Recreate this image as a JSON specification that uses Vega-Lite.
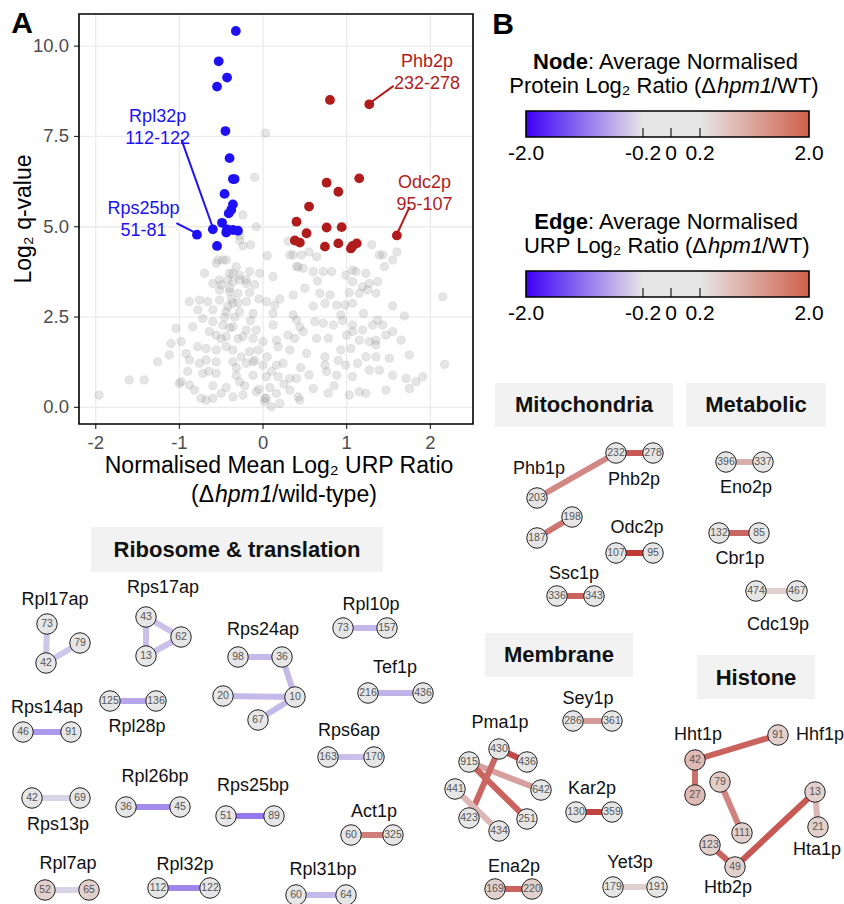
{
"$schema": "https://vega.github.io/schema/vega-lite/v6.json",
"width": 844, "height": 904,
"autosize": {"type": "none"},
"padding": 0,
"background": "white",
"config": {"view": {"stroke": null}, "font": "Liberation Sans"},
"datasets": {
"volcano": [
{"x":0.03,"y":7.59,"sig":"ns"},{"x":-0.10,"y":6.37,"sig":"ns"},{"x":-0.24,"y":5.33,"sig":"ns"},{"x":-0.08,"y":5.00,"sig":"ns"},{"x":-0.28,"y":4.75,"sig":"ns"},{"x":-0.24,"y":4.47,"sig":"ns"},{"x":-0.28,"y":4.63,"sig":"ns"},{"x":-0.48,"y":4.08,"sig":"ns"},{"x":-0.56,"y":3.99,"sig":"ns"},{"x":-0.70,"y":3.71,"sig":"ns"},{"x":-0.36,"y":3.71,"sig":"ns"},{"x":-0.04,"y":3.71,"sig":"ns"},{"x":0.12,"y":3.62,"sig":"ns"},{"x":0.36,"y":4.22,"sig":"ns"},{"x":0.42,"y":3.89,"sig":"ns"},{"x":0.64,"y":4.17,"sig":"ns"},{"x":1.07,"y":3.80,"sig":"ns"},{"x":1.23,"y":3.71,"sig":"ns"},{"x":1.43,"y":4.22,"sig":"ns"},{"x":1.55,"y":4.08,"sig":"ns"},{"x":-0.32,"y":3.89,"sig":"ns"},{"x":-0.52,"y":3.53,"sig":"ns"},{"x":-0.42,"y":3.53,"sig":"ns"},{"x":-0.28,"y":3.53,"sig":"ns"},{"x":-0.20,"y":3.53,"sig":"ns"},{"x":-0.54,"y":4.08,"sig":"ns"},{"x":-0.44,"y":4.08,"sig":"ns"},{"x":0.32,"y":4.22,"sig":"ns"},{"x":0.46,"y":4.22,"sig":"ns"},{"x":1.39,"y":4.22,"sig":"ns"},{"x":-0.40,"y":3.71,"sig":"ns"},{"x":-0.28,"y":3.66,"sig":"ns"},{"x":-0.16,"y":3.76,"sig":"ns"},{"x":0.40,"y":3.90,"sig":"ns"},{"x":0.48,"y":3.85,"sig":"ns"},{"x":0.60,"y":3.76,"sig":"ns"},{"x":0.72,"y":3.76,"sig":"ns"},{"x":0.82,"y":3.76,"sig":"ns"},{"x":0.99,"y":3.66,"sig":"ns"},{"x":1.11,"y":3.76,"sig":"ns"},
{"x":-0.60,"y":3.43,"sig":"ns"},{"x":-0.50,"y":3.39,"sig":"ns"},{"x":-0.36,"y":3.48,"sig":"ns"},{"x":-0.20,"y":3.43,"sig":"ns"},{"x":1.07,"y":3.48,"sig":"ns"},{"x":1.19,"y":3.34,"sig":"ns"},{"x":1.27,"y":3.43,"sig":"ns"},{"x":1.37,"y":3.48,"sig":"ns"},{"x":-0.52,"y":3.25,"sig":"ns"},{"x":-0.40,"y":3.20,"sig":"ns"},{"x":-0.30,"y":3.16,"sig":"ns"},{"x":-0.16,"y":3.18,"sig":"ns"},{"x":0.36,"y":3.11,"sig":"ns"},{"x":0.68,"y":3.16,"sig":"ns"},{"x":0.80,"y":3.11,"sig":"ns"},{"x":1.03,"y":3.18,"sig":"ns"},{"x":1.15,"y":3.16,"sig":"ns"},{"x":1.35,"y":3.16,"sig":"ns"},{"x":1.25,"y":3.25,"sig":"ns"},
{"x":-0.88,"y":2.93,"sig":"ns"},{"x":-0.76,"y":2.97,"sig":"ns"},{"x":-0.66,"y":2.93,"sig":"ns"},{"x":-0.52,"y":2.97,"sig":"ns"},{"x":-0.36,"y":2.88,"sig":"ns"},{"x":-0.20,"y":2.93,"sig":"ns"},{"x":0.04,"y":2.93,"sig":"ns"},{"x":0.14,"y":2.83,"sig":"ns"},{"x":0.74,"y":2.88,"sig":"ns"},{"x":0.88,"y":2.83,"sig":"ns"},{"x":0.98,"y":2.83,"sig":"ns"},{"x":1.07,"y":2.88,"sig":"ns"},{"x":1.55,"y":2.81,"sig":"ns"},{"x":2.15,"y":3.06,"sig":"ns"},
{"x":-0.78,"y":2.70,"sig":"ns"},{"x":-0.60,"y":2.70,"sig":"ns"},{"x":-0.44,"y":2.65,"sig":"ns"},{"x":-0.28,"y":2.65,"sig":"ns"},{"x":-0.12,"y":2.60,"sig":"ns"},{"x":0.12,"y":2.60,"sig":"ns"},{"x":0.36,"y":2.56,"sig":"ns"},{"x":0.93,"y":2.56,"sig":"ns"},{"x":1.69,"y":2.53,"sig":"ns"},
{"x":-1.04,"y":2.19,"sig":"ns"},{"x":-0.84,"y":2.23,"sig":"ns"},{"x":-0.72,"y":2.46,"sig":"ns"},{"x":-0.60,"y":2.37,"sig":"ns"},{"x":-0.48,"y":2.28,"sig":"ns"},{"x":-0.36,"y":2.23,"sig":"ns"},{"x":-0.20,"y":2.14,"sig":"ns"},{"x":-0.08,"y":2.14,"sig":"ns"},{"x":0.12,"y":2.28,"sig":"ns"},{"x":0.40,"y":2.42,"sig":"ns"},{"x":0.44,"y":2.23,"sig":"ns"},{"x":0.62,"y":2.37,"sig":"ns"},{"x":0.72,"y":2.33,"sig":"ns"},{"x":0.84,"y":2.28,"sig":"ns"},{"x":1.07,"y":2.28,"sig":"ns"},{"x":1.19,"y":2.14,"sig":"ns"},{"x":1.31,"y":2.28,"sig":"ns"},{"x":1.43,"y":2.28,"sig":"ns"},{"x":1.37,"y":2.42,"sig":"ns"},
{"x":-1.10,"y":1.77,"sig":"ns"},{"x":-0.98,"y":1.82,"sig":"ns"},{"x":-0.64,"y":2.10,"sig":"ns"},{"x":-0.56,"y":2.00,"sig":"ns"},{"x":-0.44,"y":1.96,"sig":"ns"},{"x":-0.24,"y":1.96,"sig":"ns"},{"x":-0.12,"y":1.91,"sig":"ns"},{"x":0.00,"y":1.82,"sig":"ns"},{"x":0.16,"y":1.86,"sig":"ns"},{"x":0.38,"y":1.91,"sig":"ns"},{"x":0.48,"y":2.10,"sig":"ns"},{"x":0.64,"y":1.91,"sig":"ns"},{"x":0.78,"y":1.91,"sig":"ns"},{"x":1.07,"y":2.10,"sig":"ns"},{"x":1.15,"y":1.86,"sig":"ns"},{"x":1.27,"y":1.82,"sig":"ns"},{"x":1.35,"y":1.86,"sig":"ns"},{"x":1.47,"y":2.00,"sig":"ns"},{"x":1.55,"y":2.10,"sig":"ns"},{"x":1.65,"y":1.86,"sig":"ns"},
{"x":-1.12,"y":1.45,"sig":"ns"},{"x":-0.92,"y":1.49,"sig":"ns"},{"x":-0.78,"y":1.68,"sig":"ns"},{"x":-0.68,"y":1.63,"sig":"ns"},{"x":-0.56,"y":1.59,"sig":"ns"},{"x":-0.44,"y":1.68,"sig":"ns"},{"x":-0.36,"y":1.59,"sig":"ns"},{"x":-0.16,"y":1.54,"sig":"ns"},{"x":-0.06,"y":1.59,"sig":"ns"},{"x":0.18,"y":1.68,"sig":"ns"},{"x":0.32,"y":1.59,"sig":"ns"},{"x":0.52,"y":1.49,"sig":"ns"},{"x":0.74,"y":1.40,"sig":"ns"},{"x":0.93,"y":1.59,"sig":"ns"},{"x":1.05,"y":1.63,"sig":"ns"},{"x":1.23,"y":1.40,"sig":"ns"},{"x":1.35,"y":1.40,"sig":"ns"},{"x":1.51,"y":1.36,"sig":"ns"},{"x":1.75,"y":1.45,"sig":"ns"},{"x":1.35,"y":1.73,"sig":"ns"},
{"x":-1.26,"y":1.26,"sig":"ns"},{"x":-0.88,"y":1.31,"sig":"ns"},{"x":-0.76,"y":1.22,"sig":"ns"},{"x":-0.68,"y":1.31,"sig":"ns"},{"x":-0.56,"y":1.26,"sig":"ns"},{"x":-0.36,"y":1.26,"sig":"ns"},{"x":-0.20,"y":1.22,"sig":"ns"},{"x":-0.12,"y":1.26,"sig":"ns"},{"x":0.00,"y":1.17,"sig":"ns"},{"x":0.16,"y":1.17,"sig":"ns"},{"x":0.24,"y":1.22,"sig":"ns"},{"x":0.74,"y":1.17,"sig":"ns"},{"x":0.99,"y":1.17,"sig":"ns"},{"x":1.13,"y":1.22,"sig":"ns"},{"x":1.27,"y":1.03,"sig":"ns"},{"x":1.39,"y":1.03,"sig":"ns"},{"x":2.17,"y":1.19,"sig":"ns"},
{"x":-1.60,"y":0.76,"sig":"ns"},{"x":-1.42,"y":0.76,"sig":"ns"},{"x":-0.98,"y":0.71,"sig":"ns"},{"x":-0.88,"y":0.62,"sig":"ns"},{"x":-0.72,"y":0.94,"sig":"ns"},{"x":-0.56,"y":0.94,"sig":"ns"},{"x":-0.32,"y":0.89,"sig":"ns"},{"x":-0.28,"y":0.71,"sig":"ns"},{"x":-0.12,"y":0.89,"sig":"ns"},{"x":0.04,"y":0.85,"sig":"ns"},{"x":0.18,"y":0.85,"sig":"ns"},{"x":0.32,"y":0.80,"sig":"ns"},{"x":0.40,"y":0.80,"sig":"ns"},{"x":0.76,"y":0.99,"sig":"ns"},{"x":0.88,"y":0.89,"sig":"ns"},{"x":1.07,"y":0.85,"sig":"ns"},{"x":1.55,"y":0.89,"sig":"ns"},{"x":1.71,"y":0.80,"sig":"ns"},{"x":1.91,"y":0.85,"sig":"ns"},{"x":1.83,"y":0.71,"sig":"ns"},
{"x":-1.96,"y":0.34,"sig":"ns"},{"x":-1.00,"y":0.66,"sig":"ns"},{"x":-0.82,"y":0.48,"sig":"ns"},{"x":-0.74,"y":0.25,"sig":"ns"},{"x":-0.60,"y":0.25,"sig":"ns"},{"x":-0.50,"y":0.39,"sig":"ns"},{"x":-0.36,"y":0.29,"sig":"ns"},{"x":-0.24,"y":0.34,"sig":"ns"},{"x":-0.08,"y":0.43,"sig":"ns"},{"x":0.02,"y":0.25,"sig":"ns"},{"x":0.16,"y":0.39,"sig":"ns"},{"x":0.32,"y":0.48,"sig":"ns"},{"x":0.42,"y":0.29,"sig":"ns"},{"x":0.44,"y":0.20,"sig":"ns"},{"x":0.60,"y":0.52,"sig":"ns"},{"x":0.78,"y":0.39,"sig":"ns"},{"x":1.03,"y":0.34,"sig":"ns"},{"x":1.15,"y":0.43,"sig":"ns"},{"x":1.23,"y":0.39,"sig":"ns"},{"x":1.47,"y":0.48,"sig":"ns"},{"x":1.75,"y":0.52,"sig":"ns"},{"x":-0.68,"y":0.20,"sig":"ns"},{"x":0.02,"y":0.16,"sig":"ns"},{"x":0.10,"y":0.02,"sig":"ns"},{"x":0.20,"y":0.11,"sig":"ns"},{"x":0.04,"y":0.25,"sig":"ns"},
{"x":-0.38,"y":3.0,"sig":"ns"},{"x":-0.42,"y":2.8,"sig":"ns"},{"x":-0.34,"y":2.5,"sig":"ns"},{"x":-0.40,"y":2.2,"sig":"ns"},{"x":-0.30,"y":1.9,"sig":"ns"},{"x":-0.26,"y":1.4,"sig":"ns"},{"x":-0.32,"y":1.1,"sig":"ns"},{"x":-0.22,"y":0.6,"sig":"ns"},{"x":-0.44,"y":0.55,"sig":"ns"},{"x":-0.40,"y":3.3,"sig":"ns"},{"x":-0.46,"y":2.5,"sig":"ns"},{"x":-0.30,"y":2.9,"sig":"ns"},{"x":-0.50,"y":1.9,"sig":"ns"},{"x":-0.10,"y":1.3,"sig":"ns"},{"x":-0.05,"y":0.5,"sig":"ns"},{"x":0.08,"y":0.55,"sig":"ns"},{"x":0.10,"y":1.0,"sig":"ns"},{"x":0.05,"y":1.4,"sig":"ns"},{"x":-0.15,"y":2.4,"sig":"ns"},{"x":0.25,"y":0.65,"sig":"ns"},{"x":0.45,"y":1.1,"sig":"ns"},{"x":0.55,"y":0.9,"sig":"ns"},{"x":0.90,"y":1.3,"sig":"ns"},{"x":0.85,"y":0.6,"sig":"ns"},{"x":1.00,"y":2.0,"sig":"ns"},{"x":0.95,"y":2.4,"sig":"ns"},{"x":1.20,"y":2.6,"sig":"ns"},{"x":0.30,"y":2.0,"sig":"ns"},{"x":0.20,"y":3.0,"sig":"ns"},{"x":-0.60,"y":0.6,"sig":"ns"},{"x":-0.65,"y":1.0,"sig":"ns"},{"x":-0.90,"y":1.0,"sig":"ns"},{"x":0.60,"y":2.8,"sig":"ns"},{"x":0.50,"y":3.3,"sig":"ns"},{"x":0.65,"y":3.5,"sig":"ns"},{"x":-0.05,"y":3.0,"sig":"ns"},{"x":-0.10,"y":3.4,"sig":"ns"},{"x":0.30,"y":4.6,"sig":"ns"},{"x":0.55,"y":4.3,"sig":"ns"},{"x":0.05,"y":4.2,"sig":"ns"},{"x":-0.15,"y":4.5,"sig":"ns"},{"x":1.30,"y":4.5,"sig":"ns"},{"x":1.60,"y":4.3,"sig":"ns"},{"x":1.45,"y":3.9,"sig":"ns"},
{"x":-0.325,"y":10.42,"sig":"down"},{"x":-0.53,"y":9.58,"sig":"down"},{"x":-0.43,"y":9.13,"sig":"down"},{"x":-0.55,"y":8.88,"sig":"down"},{"x":-0.45,"y":7.65,"sig":"down"},{"x":-0.40,"y":6.90,"sig":"down"},{"x":-0.36,"y":6.32,"sig":"down"},{"x":-0.34,"y":6.32,"sig":"down"},{"x":-0.46,"y":5.91,"sig":"down"},{"x":-0.36,"y":5.62,"sig":"down"},{"x":-0.38,"y":5.47,"sig":"down"},{"x":-0.41,"y":5.37,"sig":"down"},{"x":-0.49,"y":5.11,"sig":"down"},{"x":-0.60,"y":4.93,"sig":"down"},{"x":-0.43,"y":4.93,"sig":"down"},{"x":-0.44,"y":4.84,"sig":"down"},{"x":-0.36,"y":4.91,"sig":"down"},{"x":-0.30,"y":4.89,"sig":"down"},{"x":-0.79,"y":4.78,"sig":"down"},{"x":-0.55,"y":4.47,"sig":"down"},
{"x":0.80,"y":8.51,"sig":"up"},{"x":1.27,"y":8.39,"sig":"up"},{"x":1.15,"y":6.34,"sig":"up"},{"x":0.76,"y":6.22,"sig":"up"},{"x":0.90,"y":5.97,"sig":"up"},{"x":0.55,"y":5.56,"sig":"up"},{"x":0.40,"y":5.14,"sig":"up"},{"x":0.76,"y":4.98,"sig":"up"},{"x":0.94,"y":4.99,"sig":"up"},{"x":0.52,"y":4.82,"sig":"up"},{"x":0.38,"y":4.62,"sig":"up"},{"x":0.44,"y":4.56,"sig":"up"},{"x":0.74,"y":4.45,"sig":"up"},{"x":0.90,"y":4.54,"sig":"up"},{"x":1.05,"y":4.40,"sig":"up"},{"x":1.12,"y":4.54,"sig":"up"},{"x":1.60,"y":4.76,"sig":"up"},{"x":1.07,"y":4.47,"sig":"up"}
],
"annot": [
{"label":"Rpl32p\n112-122","x":-1.26,"y":8.04,"sig":"down"},
{"label":"Rps25bp\n51-81","x":-1.43,"y":5.49,"sig":"down"},
{"label":"Phb2p\n232-278","x":1.96,"y":9.55,"sig":"up"},
{"label":"Odc2p\n95-107","x":1.93,"y":6.21,"sig":"up"}
],
"segs": [
{"x":-0.975,"y":7.41,"x2":-0.604,"y2":5.00,"sig":"down"},
{"x":-1.035,"y":5.10,"x2":-0.795,"y2":4.82,"sig":"down"},
{"x":1.561,"y":8.90,"x2":1.262,"y2":8.40,"sig":"up"},
{"x":1.752,"y":5.55,"x2":1.597,"y2":4.78,"sig":"up"}
],
"gridx": [{"x":-2,"label":"-2"},{"x":-1,"label":"-1"},{"x":0,"label":"0"},{"x":1,"label":"1"},{"x":2,"label":"2"}],
"gridy": [{"y":0,"label":"0.0"},{"y":2.5,"label":"2.5"},{"y":5,"label":"5.0"},{"y":7.5,"label":"7.5"},{"y":10,"label":"10.0"}],
"frame": [{"panel":"A"}],
"axisTitles": [
{"part":"x1","text":"Normalised Mean Log₂ URP Ratio"},
{"part":"x2a","text":"(Δ"},
{"part":"x2i","text":"hpm1"},
{"part":"x2w","text":"/wild-type)"},
{"part":"y","text":"Log₂ q-value"}
],
"legendBars": [{"legend":"Node"},{"legend":"Edge"}],
"legendTicks": [{"legend":"Node","v":-0.2},{"legend":"Node","v":0},{"legend":"Node","v":0.2},{"legend":"Edge","v":-0.2},{"legend":"Edge","v":0},{"legend":"Edge","v":0.2}],
"legendLabels": [
{"legend":"Node","v":-2,"label":"-2.0"},{"legend":"Node","v":-0.2,"label":"-0.2"},{"legend":"Node","v":0,"label":"0"},{"legend":"Node","v":0.2,"label":"0.2"},{"legend":"Node","v":2,"label":"2.0"},
{"legend":"Edge","v":-2,"label":"-2.0"},{"legend":"Edge","v":-0.2,"label":"-0.2"},{"legend":"Edge","v":0,"label":"0"},{"legend":"Edge","v":0.2,"label":"0.2"},{"legend":"Edge","v":2,"label":"2.0"}
],
"legendText": [
{"legend":"Node","part":"b","text":"Node"},{"legend":"Node","part":"r","text":": Average Normalised"},{"legend":"Node","part":"a","text":"Protein Log₂ Ratio (Δ"},{"legend":"Node","part":"i","text":"hpm1"},{"legend":"Node","part":"w","text":"/WT)"},
{"legend":"Edge","part":"b","text":"Edge"},{"legend":"Edge","part":"r","text":": Average Normalised"},{"legend":"Edge","part":"a","text":"URP Log₂ Ratio (Δ"},{"legend":"Edge","part":"i","text":"hpm1"},{"legend":"Edge","part":"w","text":"/WT)"}
],
"groups": [
{"title":"Ribosome & translation","x1":91,"x2":383,"y1":527,"y2":572,"cx":237,"cy":550},
{"title":"Mitochondria","x1":495,"x2":673,"y1":383,"y2":427,"cx":584,"cy":405},
{"title":"Metabolic","x1":686,"x2":826,"y1":383,"y2":427,"cx":756,"cy":405},
{"title":"Membrane","x1":485,"x2":633,"y1":633,"y2":677,"cx":559,"cy":655},
{"title":"Histone","x1":697,"x2":815,"y1":655,"y2":699,"cx":756,"cy":678}
],
"panels": [{"label":"A","x":22,"y":24},{"label":"B","x":503,"y":25}],
"nodes": [
{"key":"Rpl17ap-73","n":"73","x":47,"y":624,"v":0},{"key":"Rpl17ap-79","n":"79","x":80,"y":643,"v":0},{"key":"Rpl17ap-42","n":"42","x":46,"y":663,"v":0},
{"key":"Rps17ap-43","n":"43","x":146,"y":617,"v":0},{"key":"Rps17ap-62","n":"62","x":181,"y":637,"v":0},{"key":"Rps17ap-13","n":"13","x":146,"y":656,"v":0},
{"key":"Rpl28p-125","n":"125","x":110,"y":701,"v":0},{"key":"Rpl28p-136","n":"136","x":156,"y":701,"v":0},
{"key":"Rps24ap-98","n":"98","x":238,"y":657,"v":0},{"key":"Rps24ap-36","n":"36","x":282,"y":657,"v":0},{"key":"Rps24ap-20","n":"20","x":223,"y":696,"v":0},{"key":"Rps24ap-10","n":"10","x":295,"y":697,"v":0},{"key":"Rps24ap-67","n":"67","x":258,"y":720,"v":0},
{"key":"Rpl10p-73","n":"73","x":343,"y":628,"v":0},{"key":"Rpl10p-157","n":"157","x":387,"y":628,"v":0},
{"key":"Tef1p-216","n":"216","x":368,"y":693,"v":0},{"key":"Tef1p-436","n":"436","x":423,"y":693,"v":0},
{"key":"Rps14ap-46","n":"46","x":23,"y":732,"v":0},{"key":"Rps14ap-91","n":"91","x":71,"y":732,"v":0},
{"key":"Rps6ap-163","n":"163","x":328,"y":757,"v":0},{"key":"Rps6ap-170","n":"170","x":374,"y":757,"v":0},
{"key":"Rps13p-42","n":"42","x":32,"y":798,"v":0},{"key":"Rps13p-69","n":"69","x":80,"y":798,"v":0},
{"key":"Rpl26bp-36","n":"36","x":126,"y":807,"v":0},{"key":"Rpl26bp-45","n":"45","x":180,"y":807,"v":0},
{"key":"Rps25bp-51","n":"51","x":226,"y":816,"v":0},{"key":"Rps25bp-89","n":"89","x":274,"y":816,"v":0},
{"key":"Act1p-60","n":"60","x":351,"y":835,"v":0},{"key":"Act1p-325","n":"325","x":393,"y":835,"v":0},
{"key":"Rpl7ap-52","n":"52","x":45,"y":890,"v":0.5},{"key":"Rpl7ap-65","n":"65","x":89,"y":890,"v":0.5},
{"key":"Rpl32p-112","n":"112","x":158,"y":888,"v":0},{"key":"Rpl32p-122","n":"122","x":210,"y":888,"v":0},
{"key":"Rpl31bp-60","n":"60","x":296,"y":895,"v":0},{"key":"Rpl31bp-64","n":"64","x":346,"y":895,"v":0},
{"key":"Phb1p-203","n":"203","x":537,"y":498,"v":0},{"key":"Phb2p-232","n":"232","x":616,"y":453,"v":0},{"key":"Phb2p-278","n":"278","x":653,"y":453,"v":0},
{"key":"Mito-187","n":"187","x":537,"y":538,"v":0},{"key":"Mito-198","n":"198","x":572,"y":517,"v":0},
{"key":"Odc2p-107","n":"107","x":616,"y":553,"v":0},{"key":"Odc2p-95","n":"95","x":653,"y":553,"v":0},
{"key":"Ssc1p-336","n":"336","x":557,"y":596,"v":0},{"key":"Ssc1p-343","n":"343","x":594,"y":596,"v":0},
{"key":"Eno2p-396","n":"396","x":726,"y":462,"v":0},{"key":"Eno2p-337","n":"337","x":763,"y":462,"v":0},
{"key":"Cbr1p-132","n":"132","x":719,"y":533,"v":0},{"key":"Cbr1p-85","n":"85","x":759,"y":533,"v":0},
{"key":"Cdc19p-474","n":"474","x":756,"y":591,"v":0},{"key":"Cdc19p-467","n":"467","x":797,"y":591,"v":0},
{"key":"Sey1p-286","n":"286","x":573,"y":721,"v":0},{"key":"Sey1p-361","n":"361","x":612,"y":721,"v":0},
{"key":"Pma1p-430","n":"430","x":499,"y":749,"v":0},{"key":"Pma1p-436","n":"436","x":527,"y":762,"v":0},{"key":"Pma1p-915","n":"915","x":469,"y":762,"v":0},{"key":"Pma1p-642","n":"642","x":541,"y":790,"v":0},{"key":"Pma1p-441","n":"441","x":455,"y":789,"v":0},{"key":"Pma1p-423","n":"423","x":469,"y":818,"v":0},{"key":"Pma1p-251","n":"251","x":527,"y":819,"v":0},{"key":"Pma1p-434","n":"434","x":499,"y":831,"v":0},
{"key":"Kar2p-130","n":"130","x":576,"y":812,"v":0},{"key":"Kar2p-359","n":"359","x":612,"y":812,"v":0},
{"key":"Ena2p-169","n":"169","x":495,"y":889,"v":0.5},{"key":"Ena2p-220","n":"220","x":532,"y":889,"v":0.5},
{"key":"Yet3p-179","n":"179","x":613,"y":887,"v":0},{"key":"Yet3p-191","n":"191","x":657,"y":887,"v":0},
{"key":"H-91","n":"91","x":778,"y":735,"v":0.5},{"key":"H-42","n":"42","x":695,"y":760,"v":0.8},{"key":"H-27","n":"27","x":695,"y":795,"v":0.8},{"key":"H-79","n":"79","x":720,"y":782,"v":0.55},{"key":"H-111","n":"111","x":742,"y":833,"v":0.5},{"key":"H-13","n":"13","x":815,"y":792,"v":0.5},{"key":"H-21","n":"21","x":818,"y":827,"v":0.5},{"key":"H-123","n":"123","x":710,"y":845,"v":0.5},{"key":"H-49","n":"49","x":735,"y":867,"v":0.5}
],
"edges": [
{"s":"Rpl17ap-73","t":"Rpl17ap-42","v":-0.45},{"s":"Rpl17ap-42","t":"Rpl17ap-79","v":-0.45},
{"s":"Rps17ap-43","t":"Rps17ap-62","v":-0.5},{"s":"Rps17ap-43","t":"Rps17ap-13","v":-0.5},{"s":"Rps17ap-13","t":"Rps17ap-62","v":-0.5},
{"s":"Rpl28p-125","t":"Rpl28p-136","v":-0.7},
{"s":"Rps24ap-98","t":"Rps24ap-36","v":-0.55},{"s":"Rps24ap-36","t":"Rps24ap-10","v":-0.55},{"s":"Rps24ap-20","t":"Rps24ap-10","v":-0.55},{"s":"Rps24ap-10","t":"Rps24ap-67","v":-0.55},
{"s":"Rpl10p-73","t":"Rpl10p-157","v":-0.55},
{"s":"Tef1p-216","t":"Tef1p-436","v":-0.6},
{"s":"Rps14ap-46","t":"Rps14ap-91","v":-0.8},
{"s":"Rps6ap-163","t":"Rps6ap-170","v":-0.5},
{"s":"Rps13p-42","t":"Rps13p-69","v":-0.35},
{"s":"Rpl26bp-36","t":"Rpl26bp-45","v":-0.9},
{"s":"Rps25bp-51","t":"Rps25bp-89","v":-1.05},
{"s":"Act1p-60","t":"Act1p-325","v":1.3},
{"s":"Rpl7ap-52","t":"Rpl7ap-65","v":-0.35},
{"s":"Rpl32p-112","t":"Rpl32p-122","v":-0.95},
{"s":"Rpl31bp-60","t":"Rpl31bp-64","v":-0.55},
{"s":"Phb1p-203","t":"Phb2p-232","v":1.2},{"s":"Phb2p-232","t":"Phb2p-278","v":1.7},
{"s":"Mito-187","t":"Mito-198","v":1.4},
{"s":"Odc2p-107","t":"Odc2p-95","v":2.0},
{"s":"Ssc1p-336","t":"Ssc1p-343","v":1.6},
{"s":"Eno2p-396","t":"Eno2p-337","v":0.8},
{"s":"Cbr1p-132","t":"Cbr1p-85","v":1.55},
{"s":"Cdc19p-474","t":"Cdc19p-467","v":0.45},
{"s":"Sey1p-286","t":"Sey1p-361","v":1.0},
{"s":"Pma1p-430","t":"Pma1p-436","v":1.85},{"s":"Pma1p-915","t":"Pma1p-642","v":0.95},{"s":"Pma1p-915","t":"Pma1p-251","v":1.6},{"s":"Pma1p-430","t":"Pma1p-423","v":1.55},{"s":"Pma1p-441","t":"Pma1p-434","v":0.7},
{"s":"Kar2p-130","t":"Kar2p-359","v":1.9},
{"s":"Ena2p-169","t":"Ena2p-220","v":1.6},
{"s":"Yet3p-179","t":"Yet3p-191","v":0.45},
{"s":"H-42","t":"H-91","v":1.6},{"s":"H-42","t":"H-27","v":1.45},{"s":"H-79","t":"H-111","v":1.25},{"s":"H-13","t":"H-21","v":0.7},{"s":"H-13","t":"H-49","v":1.7},{"s":"H-123","t":"H-49","v":1.6}
],
"plabels": [
{"label":"Rpl17ap","x":55,"y":600},{"label":"Rps17ap","x":163,"y":588},{"label":"Rpl28p","x":137,"y":727},{"label":"Rps24ap","x":263,"y":630},{"label":"Rpl10p","x":371,"y":605},{"label":"Tef1p","x":395,"y":668},{"label":"Rps14ap","x":47,"y":708},{"label":"Rps6ap","x":349,"y":731},{"label":"Rps13p","x":58,"y":825},{"label":"Rpl26bp","x":155,"y":777},{"label":"Rps25bp","x":253,"y":786},{"label":"Act1p","x":374,"y":812},{"label":"Rpl7ap","x":68,"y":864},{"label":"Rpl32p","x":185,"y":865},{"label":"Rpl31bp","x":323,"y":870},
{"label":"Phb1p","x":539,"y":469},{"label":"Phb2p","x":634,"y":480},{"label":"Odc2p","x":637,"y":528},{"label":"Ssc1p","x":574,"y":574},{"label":"Eno2p","x":746,"y":488},{"label":"Cbr1p","x":740,"y":559},{"label":"Cdc19p","x":778,"y":625},
{"label":"Sey1p","x":588,"y":699},{"label":"Pma1p","x":500,"y":723},{"label":"Kar2p","x":592,"y":789},{"label":"Ena2p","x":514,"y":867},{"label":"Yet3p","x":630,"y":863},
{"label":"Hht1p","x":698,"y":735},{"label":"Hhf1p","x":820,"y":735},{"label":"Hta1p","x":817,"y":850},{"label":"Htb2p","x":728,"y":888}
]
},
"layer": [
{
"layer": [
{"data": {"name": "gridx"}, "mark": {"type": "rule", "color": "#ebebeb", "strokeWidth": 1.3},
 "encoding": {"x": {"field": "x", "type": "quantitative", "scale": {"domain": [-2.2, 2.51], "range": [79, 473], "nice": false, "zero": false}, "axis": null},
  "y": {"datum": -0.46, "type": "quantitative", "scale": {"domain": [-0.46, 10.89], "range": [424, 14], "nice": false, "zero": false}, "axis": null}, "y2": {"datum": 10.89}}},
{"data": {"name": "gridy"}, "mark": {"type": "rule", "color": "#ebebeb", "strokeWidth": 1.3},
 "encoding": {"y": {"field": "y", "type": "quantitative", "axis": null}, "x": {"datum": -2.2, "type": "quantitative", "axis": null}, "x2": {"datum": 2.51}}},
{"data": {"name": "gridx"}, "mark": {"type": "rule", "color": "#333333", "strokeWidth": 1.2},
 "encoding": {"x": {"field": "x", "type": "quantitative", "axis": null}, "y": {"datum": -0.46, "type": "quantitative", "axis": null}, "y2": {"datum": -0.6}}},
{"data": {"name": "gridy"}, "mark": {"type": "rule", "color": "#333333", "strokeWidth": 1.2},
 "encoding": {"y": {"field": "y", "type": "quantitative", "axis": null}, "x": {"datum": -2.2, "type": "quantitative", "axis": null}, "x2": {"datum": -2.26}}},
{"data": {"name": "gridx"}, "mark": {"type": "text", "fontSize": 18.5, "color": "#4d4d4d", "align": "center", "baseline": "middle", "dy": 19},
 "encoding": {"x": {"field": "x", "type": "quantitative", "axis": null}, "y": {"datum": -0.46, "type": "quantitative", "axis": null}, "text": {"field": "label"}}},
{"data": {"name": "gridy"}, "mark": {"type": "text", "fontSize": 18.5, "color": "#4d4d4d", "align": "right", "baseline": "middle", "dx": -10},
 "encoding": {"y": {"field": "y", "type": "quantitative", "axis": null}, "x": {"datum": -2.2, "type": "quantitative", "axis": null}, "text": {"field": "label"}}},
{"data": {"name": "axisTitles"}, "transform": [{"filter": "datum.part == 'x1'"}], "mark": {"type": "text", "fontSize": 23, "color": "black", "align": "center", "baseline": "middle", "dx": 16, "dy": 42},
 "encoding": {"x": {"datum": 0, "type": "quantitative", "axis": null}, "y": {"datum": -0.46, "type": "quantitative", "axis": null}, "text": {"field": "text"}}},
{"data": {"name": "axisTitles"}, "transform": [{"filter": "datum.part == 'x2a'"}], "mark": {"type": "text", "fontSize": 23, "color": "black", "align": "right", "baseline": "middle", "dx": -49, "dy": 71},
 "encoding": {"x": {"datum": 0, "type": "quantitative", "axis": null}, "y": {"datum": -0.46, "type": "quantitative", "axis": null}, "text": {"field": "text"}}},
{"data": {"name": "axisTitles"}, "transform": [{"filter": "datum.part == 'x2i'"}], "mark": {"type": "text", "fontSize": 23, "fontStyle": "italic", "color": "black", "align": "left", "baseline": "middle", "dx": -48, "dy": 71},
 "encoding": {"x": {"datum": 0, "type": "quantitative", "axis": null}, "y": {"datum": -0.46, "type": "quantitative", "axis": null}, "text": {"field": "text"}}},
{"data": {"name": "axisTitles"}, "transform": [{"filter": "datum.part == 'x2w'"}], "mark": {"type": "text", "fontSize": 23, "color": "black", "align": "left", "baseline": "middle", "dx": 9, "dy": 71},
 "encoding": {"x": {"datum": 0, "type": "quantitative", "axis": null}, "y": {"datum": -0.46, "type": "quantitative", "axis": null}, "text": {"field": "text"}}},
{"data": {"name": "axisTitles"}, "transform": [{"filter": "datum.part == 'y'"}], "mark": {"type": "text", "fontSize": 23, "color": "black", "align": "center", "baseline": "middle", "angle": 270},
 "encoding": {"x": {"datum": -2.853, "type": "quantitative", "axis": null}, "y": {"datum": 5.215, "type": "quantitative", "axis": null}, "text": {"field": "text"}}},
{"data": {"name": "volcano"}, "transform": [{"filter": "datum.sig == 'ns'"}],
 "mark": {"type": "circle", "size": 66, "fill": "#a0a0a0", "stroke": "#7a7a7a", "strokeWidth": 0.8, "opacity": 0.27},
 "encoding": {"x": {"field": "x", "type": "quantitative", "axis": null}, "y": {"field": "y", "type": "quantitative", "axis": null}}},
{"data": {"name": "volcano"}, "transform": [{"filter": "datum.sig != 'ns'"}],
 "mark": {"type": "circle", "size": 96, "opacity": 1},
 "encoding": {"x": {"field": "x", "type": "quantitative", "axis": null}, "y": {"field": "y", "type": "quantitative", "axis": null},
  "color": {"field": "sig", "type": "nominal", "scale": {"domain": ["down", "up"], "range": ["#2010f5", "#b01c1c"]}, "legend": null}}},
{"data": {"name": "segs"}, "mark": {"type": "rule", "strokeWidth": 2},
 "encoding": {"x": {"field": "x", "type": "quantitative", "axis": null}, "y": {"field": "y", "type": "quantitative", "axis": null}, "x2": {"field": "x2"}, "y2": {"field": "y2"},
  "color": {"field": "sig", "type": "nominal", "legend": null}}},
{"data": {"name": "annot"}, "mark": {"type": "text", "fontSize": 18, "lineBreak": "\n", "lineHeight": 22, "align": "center", "baseline": "middle"},
 "encoding": {"x": {"field": "x", "type": "quantitative", "axis": null}, "y": {"field": "y", "type": "quantitative", "axis": null}, "text": {"field": "label"},
  "color": {"field": "sig", "type": "nominal", "legend": null}}},
{"data": {"name": "frame"}, "mark": {"type": "rect", "fillOpacity": 0, "stroke": "black", "strokeWidth": 1.6},
 "encoding": {"x": {"datum": -2.2, "type": "quantitative", "axis": null}, "x2": {"datum": 2.51}, "y": {"datum": -0.46, "type": "quantitative", "axis": null}, "y2": {"datum": 10.89}}}
]
},
{
"layer": [
{"data": {"name": "legendBars"},
 "mark": {"type": "rect", "stroke": "black", "strokeWidth": 1.6, "fill": {"gradient": "linear", "x1": 0, "x2": 1, "y1": 0, "y2": 0, "stops": [{"offset": 0, "color": "#3c00f5"}, {"offset": 0.413, "color": "#e6e6e6"}, {"offset": 0.615, "color": "#e6e6e6"}, {"offset": 1, "color": "#d0604c"}]}},
 "encoding": {"x": {"datum": -2, "type": "quantitative", "scale": {"type": "linear", "domain": [-2, -0.2, 0, 0.2, 2], "range": [526, 643, 671, 700, 809], "nice": false, "zero": false}, "axis": null}, "x2": {"datum": 2},
  "y": {"field": "legend", "type": "nominal", "scale": {"type": "band", "domain": ["Node", "Edge"], "range": [111, 297], "paddingInner": 0.8375, "paddingOuter": 0}, "axis": null}}},
{"data": {"name": "legendTicks"},
 "mark": {"type": "tick", "size": 9, "thickness": 1.5, "color": "black", "yOffset": 8.5},
 "encoding": {"x": {"field": "v", "type": "quantitative", "axis": null}, "y": {"field": "legend", "type": "nominal", "axis": null}}},
{"data": {"name": "legendLabels"},
 "mark": {"type": "text", "fontSize": 21, "baseline": "middle", "align": "center", "dy": 30, "color": "black"},
 "encoding": {"x": {"field": "v", "type": "quantitative", "axis": null}, "y": {"field": "legend", "type": "nominal", "axis": null}, "text": {"field": "label"}}},
{"data": {"name": "legendText"}, "transform": [{"filter": "datum.part == 'b'"}],
 "mark": {"type": "text", "fontSize": 22, "fontWeight": "bold", "align": "right", "baseline": "middle", "dx": -83, "dy": -62, "color": "black"},
 "encoding": {"x": {"datum": 0, "type": "quantitative", "axis": null}, "y": {"field": "legend", "type": "nominal", "axis": null}, "text": {"field": "text"}}},
{"data": {"name": "legendText"}, "transform": [{"filter": "datum.part == 'r'"}],
 "mark": {"type": "text", "fontSize": 22, "align": "left", "baseline": "middle", "dx": -83, "dy": -62, "color": "black"},
 "encoding": {"x": {"datum": 0, "type": "quantitative", "axis": null}, "y": {"field": "legend", "type": "nominal", "axis": null}, "text": {"field": "text"}}},
{"data": {"name": "legendText"}, "transform": [{"filter": "datum.part == 'a' && datum.legend == 'Node'"}],
 "mark": {"type": "text", "fontSize": 22, "align": "right", "baseline": "middle", "dx": 45, "dy": -38, "color": "black"},
 "encoding": {"x": {"datum": 0, "type": "quantitative", "axis": null}, "y": {"field": "legend", "type": "nominal", "axis": null}, "text": {"field": "text"}}},
{"data": {"name": "legendText"}, "transform": [{"filter": "datum.part == 'i' && datum.legend == 'Node'"}],
 "mark": {"type": "text", "fontSize": 22, "fontStyle": "italic", "align": "left", "baseline": "middle", "dx": 46, "dy": -38, "color": "black"},
 "encoding": {"x": {"datum": 0, "type": "quantitative", "axis": null}, "y": {"field": "legend", "type": "nominal", "axis": null}, "text": {"field": "text"}}},
{"data": {"name": "legendText"}, "transform": [{"filter": "datum.part == 'w' && datum.legend == 'Node'"}],
 "mark": {"type": "text", "fontSize": 22, "align": "left", "baseline": "middle", "dx": 100, "dy": -38, "color": "black"},
 "encoding": {"x": {"datum": 0, "type": "quantitative", "axis": null}, "y": {"field": "legend", "type": "nominal", "axis": null}, "text": {"field": "text"}}},
{"data": {"name": "legendText"}, "transform": [{"filter": "datum.part == 'a' && datum.legend == 'Edge'"}],
 "mark": {"type": "text", "fontSize": 22, "align": "right", "baseline": "middle", "dx": 36, "dy": -38, "color": "black"},
 "encoding": {"x": {"datum": 0, "type": "quantitative", "axis": null}, "y": {"field": "legend", "type": "nominal", "axis": null}, "text": {"field": "text"}}},
{"data": {"name": "legendText"}, "transform": [{"filter": "datum.part == 'i' && datum.legend == 'Edge'"}],
 "mark": {"type": "text", "fontSize": 22, "fontStyle": "italic", "align": "left", "baseline": "middle", "dx": 37, "dy": -38, "color": "black"},
 "encoding": {"x": {"datum": 0, "type": "quantitative", "axis": null}, "y": {"field": "legend", "type": "nominal", "axis": null}, "text": {"field": "text"}}},
{"data": {"name": "legendText"}, "transform": [{"filter": "datum.part == 'w' && datum.legend == 'Edge'"}],
 "mark": {"type": "text", "fontSize": 22, "align": "left", "baseline": "middle", "dx": 91, "dy": -38, "color": "black"},
 "encoding": {"x": {"datum": 0, "type": "quantitative", "axis": null}, "y": {"field": "legend", "type": "nominal", "axis": null}, "text": {"field": "text"}}}
]
},
{
"layer": [
{"data": {"name": "groups"}, "mark": {"type": "rect", "fill": "#f2f2f2"},
 "encoding": {"x": {"field": "x1", "type": "quantitative", "scale": {"domain": [0, 844], "range": [0, 844], "nice": false, "zero": false}, "axis": null}, "x2": {"field": "x2"},
  "y": {"field": "y1", "type": "quantitative", "scale": {"domain": [0, 904], "range": [0, 904], "nice": false, "zero": false}, "axis": null}, "y2": {"field": "y2"}}},
{"data": {"name": "groups"}, "mark": {"type": "text", "fontSize": 22, "fontWeight": "bold", "align": "center", "baseline": "middle", "color": "#111111"},
 "encoding": {"x": {"field": "cx", "type": "quantitative", "axis": null}, "y": {"field": "cy", "type": "quantitative", "axis": null}, "text": {"field": "title"}}},
{"data": {"name": "edges"},
 "transform": [
  {"lookup": "s", "from": {"data": {"name": "nodes"}, "key": "key", "fields": ["x", "y"]}, "as": ["sx", "sy"]},
  {"lookup": "t", "from": {"data": {"name": "nodes"}, "key": "key", "fields": ["x", "y"]}, "as": ["tx", "ty"]}
 ],
 "mark": {"type": "rule", "strokeWidth": 6, "strokeCap": "butt"},
 "encoding": {"x": {"field": "sx", "type": "quantitative", "axis": null}, "y": {"field": "sy", "type": "quantitative", "axis": null}, "x2": {"field": "tx"}, "y2": {"field": "ty"},
  "stroke": {"field": "v", "type": "quantitative", "scale": {"type": "linear", "domain": [-2, -0.2, 0.2, 2], "range": ["#3c00f5", "#e6e6e6", "#e6e6e6", "#c23c36"], "interpolate": "rgb", "clamp": true}, "legend": null}}},
{"data": {"name": "nodes"},
 "mark": {"type": "point", "shape": "circle", "filled": true, "size": 420, "stroke": "#222222", "strokeWidth": 1, "opacity": 1},
 "encoding": {"x": {"field": "x", "type": "quantitative", "axis": null}, "y": {"field": "y", "type": "quantitative", "axis": null},
  "fill": {"field": "v", "type": "quantitative", "scale": {"type": "linear", "domain": [-2, -0.2, 0.2, 2], "range": ["#3c00f5", "#e6e6e6", "#e6e6e6", "#d0604c"], "interpolate": "rgb", "clamp": true}, "legend": null}}},
{"data": {"name": "nodes"},
 "mark": {"type": "text", "fontSize": 10.5, "color": "#555555", "align": "center", "baseline": "middle"},
 "encoding": {"x": {"field": "x", "type": "quantitative", "axis": null}, "y": {"field": "y", "type": "quantitative", "axis": null}, "text": {"field": "n"}}},
{"data": {"name": "plabels"},
 "mark": {"type": "text", "fontSize": 18, "color": "#111111", "align": "center", "baseline": "middle"},
 "encoding": {"x": {"field": "x", "type": "quantitative", "axis": null}, "y": {"field": "y", "type": "quantitative", "axis": null}, "text": {"field": "label"}}},
{"data": {"name": "panels"},
 "mark": {"type": "text", "fontSize": 30, "fontWeight": "bold", "color": "black", "align": "center", "baseline": "middle"},
 "encoding": {"x": {"field": "x", "type": "quantitative", "axis": null}, "y": {"field": "y", "type": "quantitative", "axis": null}, "text": {"field": "label"}}}
]
}
],
"resolve": {"scale": {"x": "independent", "y": "independent", "color": "independent", "fill": "independent", "stroke": "independent"}, "axis": {"x": "independent", "y": "independent"}}
}
